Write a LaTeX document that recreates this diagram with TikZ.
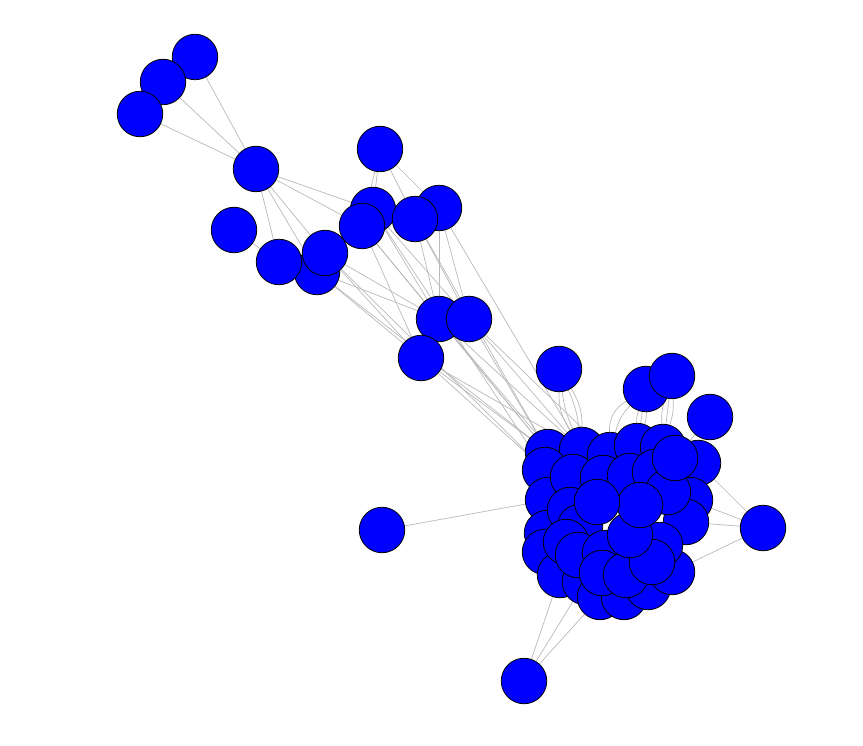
\documentclass[tikz,border=0pt]{standalone}
\pgfdeclarelayer{bg}
\pgfsetlayers{bg,main}
\begin{document}
\begin{tikzpicture}[x=1pt,y=-1pt,
  vtx/.style={circle,fill={rgb,255:red,0;green,0;blue,255},draw=black,line width=0.8pt,minimum size=45.5pt,inner sep=0pt},
  lnk/.style={draw={rgb,255:red,185;green,185;blue,185},line width=0.7pt}]
\useasboundingbox (0,0) rectangle (863,746);
% outlying nodes
\foreach \n/\x/\y in {a1/195/57, a2/163/82, a3/140/114, b/256/169, c/380/149,
  d1/373/210, d2/362/226, d4/439/208, d3/415/219, e/234/230, f2/317/272, f1/279/262, f3/325/253,
  g1/439/319, g2/469/319, g3/421/358, h/559/369, i1/646/389, i2/672/376, j/710/417,
  k/763/528, l/382/530, m/524/681}
  \node[vtx] (\n) at (\x,\y) {};
% cluster
\foreach \n/\x/\y in {q1/548/452, q2/582/450, q3/545/470, q4/610/455, q5/637/446, q6/663/447,
  q7/698/463, q8/548/500, q9/547/533, q10/545/552, q11/560/575, q12/585/582, q13/600/597,
  q14/624/597, q15/648/587, q16/672/572, q17/690/500, q18/686/522, q19/573/477, q20/603/478,
  q21/630/476, q22/655/472, q23/668/492, q24/570/510, q25/580/527, q26/566/542, q27/578/555,
  q28/605/553, q29/602/573, q30/626/575, q31/660/545, q32/652/562, q33/630/535, q34/640/505,
  q35/597/502, q36/675/458}
  \node[vtx] (\n) at (\x,\y) {};
\begin{pgfonlayer}{bg}
\foreach \s/\t in {a1/b, a2/b, a3/b, b/d1, b/d2, b/f1, b/f2, b/f3, e/f1,
  c/d1, c/d2, c/d3, c/d4, d4/g1, d4/g2, d3/g1, d3/g2, d1/g1, d2/g1, d2/g3, d1/g2,
  f3/g1, f2/g1, f3/g3, f2/g3, f2/q1, f3/q3, d2/q1, d1/q3, d3/q1, d4/q2,
  g1/q1, g1/q2, g1/q19, g2/q1, g2/q2, g2/q4, g3/q1, g3/q3, g3/q2,
  j/q36, j/q7, k/q7, k/q18, k/q17, k/q16, l/q8, m/q11, m/q12, m/q13}
  \draw[lnk] (\s) -- (\t);
\foreach \bb in {-16,-8,8,16}
  \draw[lnk] (h) to[bend left=\bb] (q2);
\draw[lnk] (i1) to[bend right=15] (q4);
\draw[lnk] (i1) to[bend right=30] (q4);
\foreach \bb in {-10,0,10}{
  \draw[lnk] (i1) to[bend left=\bb] (q5);
  \draw[lnk] (i2) to[bend left=\bb] (q6);}
\end{pgfonlayer}
\end{tikzpicture}
\end{document}
